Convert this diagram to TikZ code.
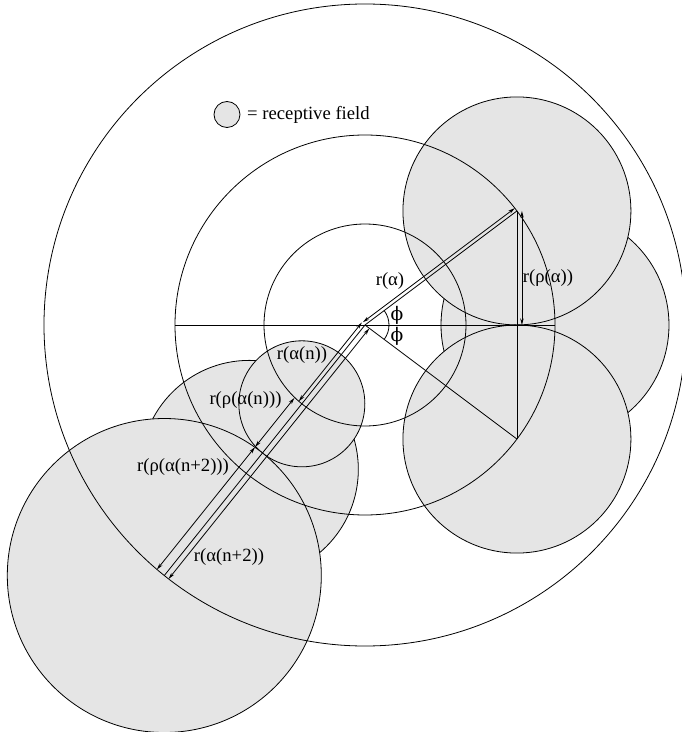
\documentclass[tikz,border=0pt]{standalone}
\usepackage{fontspec}
\setmainfont{Liberation Serif}
\newfontfamily\phifont{DejaVu Serif}
\usepackage{xcolor}
\usepackage{tikz}
\usetikzlibrary{positioning, arrows.meta, calc}
\definecolor{fieldgray}{HTML}{E5E5E5}

\begin{document}
\begin{tikzpicture}[x=0.75pt, y=0.75pt, line width=0.6pt,
    font=\fontsize{14}{16}\selectfont,
    field/.style={fill=fieldgray, draw=black},
    dimarrow/.style={{Stealth[length=5pt, width=2.6pt]}-{Stealth[length=5pt, width=2.6pt]}}]
  \useasboundingbox (-365,-407) rectangle (317,325);

  \coordinate (O) at (0,0);
  \coordinate (pa) at (36.9:190);
  \coordinate (pb) at (-36.9:190);
  \coordinate (pc) at (0:190);
  \coordinate (hl) at (180:190);
  \coordinate (foot) at (pa |- O);
  \coordinate (cn) at (231.3:101);
  \coordinate (cm) at (231.3:185);
  \coordinate (cnn) at (231.3:321);
  \coordinate (touch) at (231.3:164);

  % receptive fields
  \draw[field] (pc) circle (114);
  \draw[field] (pa) circle (114);
  \draw[field] (pb) circle (114);
  \draw[field] (cm) circle (109);
  \draw[field] (cn) circle (63);
  \draw[field] (cnn) circle (157);

  % rings
  \draw (O) circle (101);
  \draw (O) circle (190);
  \draw (O) circle (321);

  % construction
  \draw (hl) -- (pc);
  \draw (O) -- (pa);
  \draw (O) -- (pb);
  \draw (pa) -- (pb);
  \draw (O) -- (cnn);
  \draw ($(O)+(-36.9:24)$) arc[start angle=-36.9, end angle=36.9, radius=24];

  % radii
  \draw[dimarrow] ($(O)+(126.9:3.5)$) -- ($(pa)+(126.9:3.5)$);
  \draw[dimarrow] ($(pa)+(5,0)$) -- ($(foot)+(5,0)$);
  \draw[dimarrow] ($(O)+(141.3:4)$) -- ($(cn)+(141.3:4)$);
  \draw[dimarrow] ($(cn)+(141.3:9.5)$) -- ($(touch)+(141.3:9.5)$);
  \draw[dimarrow] ($(touch)+(141.3:9.5)$) -- ($(cnn)+(141.3:9.5)$);
  \draw[dimarrow] ($(O)+(-38.7:5.5)$) -- ($(cnn)+(-38.7:5.5)$);

  \node (ra) at (25,44) {r(α)};
  \node (rra) at (183,47) {r(ρ(α))};
  \node (phia) at (32,10) {\phifont ϕ};
  \node (phib) at (32,-11.7) {\phifont ϕ};
  \node (ran) at (-63,-30) {r(α(n))};
  \node (rran) at (-119.5,-75) {r(ρ(α(n)))};
  \node (rrann) at (-182,-142) {r(ρ(α(n+2)))};
  \node (rann) at (-136,-232) {r(α(n+2))};

  \node[field, circle, minimum size=19.5pt, inner sep=0pt] (key) at (-138,210.5) {};
  \node[right=1.5pt of key] (keytext) {= receptive field};
\end{tikzpicture}
\end{document}
